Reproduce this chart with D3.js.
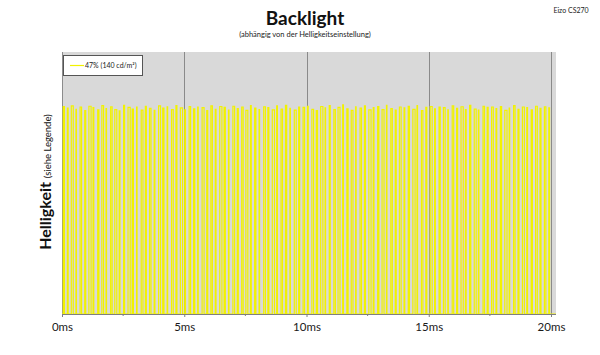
<!DOCTYPE html>
<html><head><meta charset="utf-8">
<script src="https://cdn.jsdelivr.net/npm/d3@7"></script>
<style>body{margin:0;background:#fff}svg{display:block}text{font-family:Lato,"Open Sans",sans-serif}</style>
</head><body>
<script>
// ---- data ----
const title = "Backlight";
const subtitle = "(abhängig von der Helligkeitseinstellung)";
const corner = "Eizo CS270";
const seriesName = "47% (140 cd/m²)";
const xTicks = [0, 5, 10, 15, 20];
const xMinorTicks = [2.5, 7.5, 12.5, 17.5];
const xTickLabels = ["0ms", "5ms", "10ms", "15ms", "20ms"];
const pulseTimes = [0.05,0.22,0.38,0.57,0.74,0.93,1.10,1.27,1.46,1.63,1.80,1.99,2.16,2.34,2.52,2.70,2.87,3.05,3.24,3.41,3.58,3.77,3.95,4.12,4.30,4.48,4.66,4.84,5.02,5.20,5.38,5.55,5.73,5.92,6.09,6.27,6.45,6.63,6.81,6.99,7.17,7.35,7.52,7.71,7.88,8.06,8.25,8.42,8.60,8.78,8.96,9.14,9.32,9.50,9.68,9.86,10.04,10.22,10.40,10.58,10.76,10.93,11.12,11.29,11.48,11.65,11.83,12.01,12.19,12.37,12.55,12.73,12.91,13.09,13.27,13.45,13.63,13.80,13.99,14.16,14.35,14.52,14.70,14.88,15.06,15.24,15.42,15.60,15.78,15.96,16.14,16.32,16.50,16.67,16.86,17.03,17.22,17.39,17.57,17.75,17.93,18.11,18.29,18.47,18.65,18.83,19.01,19.19,19.37,19.55,19.73,19.91];
const pulseWidths = [0.05,0.03,0.08,0.02,0.06,0.04,0.09,0.03,0.05,0.07,0.02,0.06,0.08,0.03,0.04,0.09,0.05,0.02,0.07,0.04,0.06,0.03,0.08,0.05,0.02,0.07,0.04,0.09,0.03,0.06,0.05,0.02,0.08,0.04,0.06,0.03,0.09,0.05,0.02,0.07,0.04,0.06,0.08,0.03,0.05,0.02,0.07,0.04,0.09,0.03,0.06,0.05,0.02,0.08,0.04,0.06,0.03,0.07,0.05,0.09,0.02,0.04,0.06,0.08,0.03,0.05,0.07,0.02,0.06,0.04,0.09,0.03,0.05,0.08,0.02,0.06,0.04,0.07,0.03,0.05,0.09,0.02,0.06,0.04,0.08,0.03,0.05,0.07,0.02,0.06,0.04,0.09,0.03,0.05,0.08,0.02,0.06,0.04,0.07,0.03,0.05,0.09,0.02,0.06,0.04,0.08,0.03,0.05,0.07,0.04,0.06,0.03];
const pulseLevels = [79.2,78.6,79.4,78.1,79.0,77.6,79.3,78.8,77.9,79.5,78.4,79.1,78.0,77.5,79.6,78.9,78.2,79.0,77.8,79.3,78.5,77.7,79.4,78.6,79.1,78.0,79.5,78.7,77.9,79.2,78.3,79.0,78.8,77.6,79.4,78.1,79.2,78.9,77.8,79.3,78.4,79.0,77.7,79.5,78.6,78.0,79.1,78.8,77.9,79.4,78.2,79.6,78.5,77.8,79.0,78.9,79.3,78.1,77.6,79.2,78.7,79.5,78.0,78.9,79.8,78.3,77.7,79.1,78.6,79.4,77.9,78.8,79.2,78.0,79.6,78.4,77.8,79.0,78.7,79.3,78.1,79.5,77.6,78.9,79.2,78.3,79.0,78.8,77.9,79.4,78.5,79.1,78.0,79.6,78.2,77.8,79.3,78.9,79.0,78.4,79.2,77.7,78.6,79.5,78.1,79.0,78.8,77.9,79.3,78.5,79.1,78.7];

// ---- chart ----
const W = 600, H = 355;
const plot = {left: 62, right: 556, top: 52, bottom: 314};
const svg = d3.select("body").append("svg").attr("width", W).attr("height", H);

const x = d3.scaleLinear().domain([0, 20]).range([62, 551]);
const y = d3.scaleLinear().domain([0, 100]).range([plot.bottom, plot.top]);

svg.append("rect").attr("x", plot.left).attr("y", plot.top)
  .attr("width", plot.right - plot.left).attr("height", plot.bottom - plot.top)
  .attr("fill", "#d9d9d9");
svg.append("line").attr("x1", plot.left + 0.5).attr("x2", plot.left + 0.5)
  .attr("y1", plot.top).attr("y2", plot.bottom).attr("stroke", "#8c8c8c");

// gridlines
svg.append("g").selectAll("line").data(xTicks.slice(1)).join("line")
  .attr("x1", d => Math.round(x(d)) + 0.5).attr("x2", d => Math.round(x(d)) + 0.5)
  .attr("y1", plot.top).attr("y2", plot.bottom)
  .attr("stroke", "#8a8a8a").attr("stroke-width", 1);

// signal
const pts = [[0, 0]];
pulseTimes.forEach((t, i) => {
  pts.push([t, 0], [t, pulseLevels[i]], [t + pulseWidths[i], pulseLevels[i]], [t + pulseWidths[i], 0]);
});
pts.push([20.2, 0]);
const line = d3.line().x(d => x(d[0])).y(d => y(d[1]));
svg.append("path").datum(pts).attr("d", line)
  .attr("fill", "none").attr("stroke", "#f2f200").attr("stroke-width", 1.2);

// x axis
const ax = d3.axisBottom(x).tickValues(xTicks).tickFormat((d, i) => xTickLabels[i]).tickSize(3).tickPadding(6);
const gx = svg.append("g").attr("transform", `translate(0,${plot.bottom})`).call(ax);
gx.select(".domain").attr("stroke", "#7f7f7f").attr("d", `M${plot.left},0.5H${plot.right}`);
gx.selectAll(".tick line").attr("stroke", "#7f7f7f");
gx.selectAll(".tick text").attr("font-size", 11.5).attr("fill", "#1a1a1a")
  .attr("font-family", "Lato, sans-serif");
gx.append("g").selectAll("line").data(xMinorTicks).join("line")
  .attr("x1", d => x(d)).attr("x2", d => x(d)).attr("y1", 0).attr("y2", 2).attr("stroke", "#7f7f7f");

// titles
svg.append("text").attr("x", 305).attr("y", 25).attr("text-anchor", "middle")
  .attr("font-size", 19).attr("font-weight", "bold").attr("fill", "#111").text(title);
svg.append("text").attr("x", 305).attr("y", 37).attr("text-anchor", "middle")
  .attr("font-size", 7.5).attr("fill", "#222").text(subtitle);
svg.append("text").attr("x", 571).attr("y", 13).attr("text-anchor", "middle")
  .attr("font-size", 7).attr("fill", "#222").text(corner);

// y title
const yt = svg.append("text").attr("transform", "translate(51,182) rotate(-90)")
  .attr("text-anchor", "middle").attr("fill", "#111");
yt.append("tspan").attr("font-size", 16).attr("font-weight", "bold").text("Helligkeit ");
yt.append("tspan").attr("font-size", 9.5).text("(siehe Legende)");

// legend
svg.append("rect").attr("x", 63.5).attr("y", 55.5).attr("width", 79).attr("height", 20)
  .attr("fill", "#fff").attr("stroke", "#555");
svg.append("line").attr("x1", 70).attr("x2", 84).attr("y1", 65.5).attr("y2", 65.5)
  .attr("stroke", "#f2f200").attr("stroke-width", 1.2);
svg.append("text").attr("x", 85).attr("y", 68).attr("font-size", 7).attr("fill", "#222").text(seriesName);
</script>
</body></html>
